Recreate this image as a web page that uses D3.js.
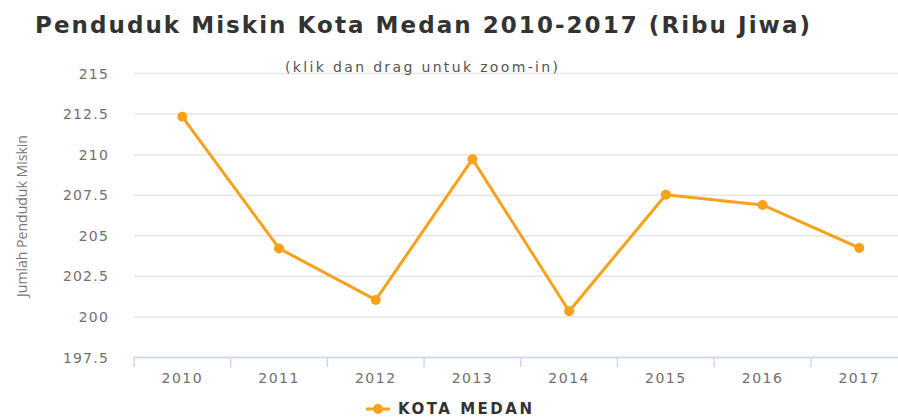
<!DOCTYPE html>
<html>
<head>
<meta charset="utf-8">
<script src="https://cdn.jsdelivr.net/npm/d3@7"></script>
<style>
  html, body { margin: 0; padding: 0; background: #fff; overflow: hidden; }
  svg { display: block; }
</style>
</head>
<body>
<svg id="chart" width="898" height="418"></svg>
<script>
const years = ["2010","2011","2012","2013","2014","2015","2016","2017"];
const values = [212.3, 204.19, 201.02, 209.69, 200.32, 207.5, 206.87, 204.22];
const yTicks = [197.5, 200, 202.5, 205, 207.5, 210, 212.5, 215];
const yTickLabels = ["197.5","200","202.5","205","207.5","210","212.5","215"];
const seriesName = "KOTA MEDAN";
const titleText = "Penduduk Miskin Kota Medan 2010-2017 (Ribu Jiwa)";
const subtitleText = "(klik dan drag untuk zoom-in)";
const yTitle = "Jumlah Penduduk Miskin";

const svg = d3.select("#chart");
const pLeft = 134, pRight = 907.6, pTop = 73, pBottom = 357;
const color = "#f8a21c";
const font = "'DejaVu Sans', Verdana, sans-serif";

const x = d3.scaleBand().domain(years).range([pLeft, pRight]).padding(0);
const y = d3.scaleLinear().domain([197.5, 215]).range([pBottom, pTop]);

// title
svg.append("text").attr("x", 35).attr("y", 33)
  .attr("font-family", font).attr("font-weight", "bold").attr("font-size", 23)
  .attr("fill", "#333").attr("textLength", 775).attr("lengthAdjust", "spacing")
  .text(titleText);

// grid
const grid = svg.append("g").attr("transform", `translate(${pLeft},0)`)
  .call(d3.axisLeft(y).tickValues(yTicks).tickSize(-(pRight - pLeft)).tickFormat(""));
grid.select(".domain").remove();
grid.selectAll(".tick line").attr("stroke", "#e6e6e6").attr("stroke-width", 1.5);

// subtitle
svg.append("text").attr("x", 285).attr("y", 72)
  .attr("font-family", font).attr("font-size", 14)
  .attr("fill", "#555").attr("textLength", 273).attr("lengthAdjust", "spacing")
  .text(subtitleText);

// y labels
const yAxis = svg.append("g").attr("transform", `translate(${pLeft},0)`)
  .call(d3.axisLeft(y).tickValues(yTicks).tickSize(0).tickPadding(25)
    .tickFormat((d, i) => yTickLabels[i]));
yAxis.select(".domain").remove();
yAxis.selectAll("text").attr("font-family", font).attr("font-size", 14)
  .attr("letter-spacing", 1.2)
  .attr("fill", "#707070").attr("dy", "0.36em");

// y title
svg.append("text")
  .attr("transform", `translate(27,216) rotate(-90)`)
  .attr("text-anchor", "middle")
  .attr("font-family", "'Open Sans', sans-serif").attr("font-size", 14)
  .attr("fill", "#777").attr("textLength", 162).attr("lengthAdjust", "spacingAndGlyphs")
  .text(yTitle);

// x axis
const xAxis = svg.append("g").attr("transform", `translate(0,${pBottom})`)
  .call(d3.axisBottom(x).tickSize(0).tickPadding(16));
xAxis.select(".domain").attr("stroke", "#ccd6eb").attr("stroke-width", 1.5);
xAxis.selectAll("text").attr("font-family", font).attr("font-size", 14)
  .attr("letter-spacing", 1.5).attr("fill", "#707070");
svg.append("g").selectAll("line").data(years).join("line")
  .attr("x1", d => x(d)).attr("x2", d => x(d))
  .attr("y1", pBottom).attr("y2", pBottom + 10)
  .attr("stroke", "#ccd6eb").attr("stroke-width", 1.5);

// line
const line = d3.line().x((d, i) => x(years[i]) + x.bandwidth() / 2).y(d => y(d));
svg.append("path").datum(values).attr("d", line)
  .attr("fill", "none").attr("stroke", color).attr("stroke-width", 3)
  .attr("stroke-linejoin", "round");
svg.append("g").selectAll("circle").data(values).join("circle")
  .attr("cx", (d, i) => x(years[i]) + x.bandwidth() / 2)
  .attr("cy", d => y(d)).attr("r", 5).attr("fill", color);

// legend
const lg = svg.append("g");
lg.append("line").attr("x1", 366).attr("x2", 390).attr("y1", 409).attr("y2", 409)
  .attr("stroke", color).attr("stroke-width", 3);
lg.append("circle").attr("cx", 378).attr("cy", 409).attr("r", 5).attr("fill", color);
lg.append("text").attr("x", 398).attr("y", 414)
  .attr("font-family", font).attr("font-weight", "bold").attr("font-size", 15)
  .attr("fill", "#333").attr("textLength", 134).attr("lengthAdjust", "spacing")
  .text(seriesName);
</script>
</body>
</html>
